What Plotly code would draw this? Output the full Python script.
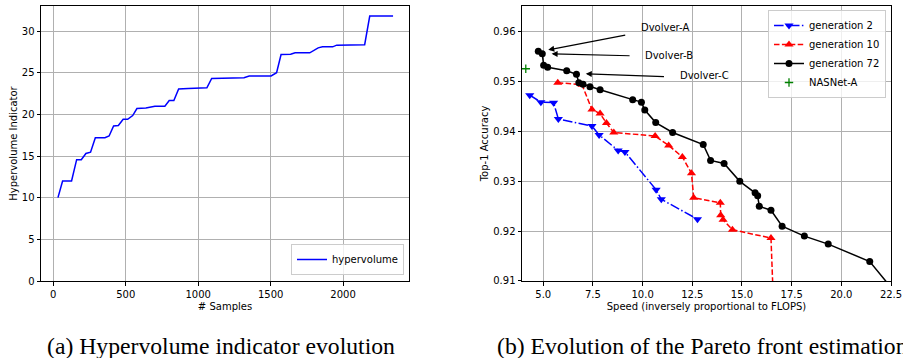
import plotly.graph_objects as go

# ---------------- data ----------------
hv_samples = [32, 64, 126, 161, 193, 225, 257, 290, 356, 385, 416, 449, 482, 513, 548, 577,
              639, 701, 770, 800, 832, 865, 931, 1000, 1060, 1093, 1195, 1316, 1352, 1503,
              1541, 1572, 1638, 1669, 1770, 1828, 1858, 1928, 1956, 2149, 2184, 2345]
hv_values = [10.0, 12.0, 12.0, 14.56, 14.56, 15.3, 15.45, 17.2, 17.2, 17.4, 18.6, 18.65,
             19.4, 19.4, 19.85, 20.7, 20.76, 20.96, 20.98, 21.65, 21.65, 23.03, 23.1, 23.16,
             23.18, 24.3, 24.36, 24.4, 24.6, 24.6, 25.0, 27.18, 27.2, 27.38, 27.38, 27.98,
             28.1, 28.1, 28.3, 28.35, 31.8, 31.8]

gen2_speed = [4.32, 4.88, 5.52, 5.76, 7.45, 7.81, 8.77, 9.11, 10.68, 10.94, 12.76]
gen2_acc = [0.9473, 0.9459, 0.9458, 0.9425, 0.9411, 0.9393, 0.9362, 0.9359, 0.9283, 0.9264, 0.9224]

gen10_speed = [5.73, 6.95, 7.45, 7.86, 8.18, 8.55, 10.63, 11.31, 12.0, 12.46, 12.57,
               13.91, 13.93, 14.05, 14.52, 16.46, 16.59]
gen10_acc = [0.9498, 0.9494, 0.9444, 0.9436, 0.9417, 0.9398, 0.9391, 0.9372, 0.9349, 0.9316,
             0.9267, 0.9257, 0.9232, 0.9223, 0.9203, 0.9186, 0.905]

gen72_speed = [4.75, 4.95, 5.02, 5.22, 6.18, 6.67, 6.79, 7.0, 7.35, 7.86, 9.50, 9.94, 10.11,
               10.66, 11.51, 13.05, 13.42, 14.10, 14.89, 15.66, 15.79, 15.87, 16.46, 17.02,
               18.14, 19.34, 21.43, 23.26]
gen72_acc = [0.9561, 0.9556, 0.9533, 0.9529, 0.9522, 0.9515, 0.9498, 0.9495, 0.9490, 0.9484,
             0.9464, 0.9459, 0.9443, 0.9418, 0.9398, 0.9374, 0.9342, 0.9336, 0.9300, 0.9277,
             0.9271, 0.9250, 0.9242, 0.9210, 0.9190, 0.9174, 0.9139, 0.905]

nasnet_speed = [4.12]
nasnet_acc = [0.9526]

dvolver_names = ["Dvolver-A", "Dvolver-B", "Dvolver-C"]
dvolver_head_x = [5.25, 5.42, 7.14]
dvolver_head_y = [0.9564, 0.9556, 0.9516]
dvolver_tail_x = [9.2, 9.42, 11.15]
dvolver_tail_y = [0.9594, 0.9552, 0.9510]
dvolver_text_x = [9.84, 10.03, 11.76]
dvolver_text_y = [0.9608, 0.9552, 0.9512]

hv_xticks = [0, 500, 1000, 1500, 2000]
hv_yticks = [0, 5, 10, 15, 20, 25, 30]
pf_xticks = [5.0, 7.5, 10.0, 12.5, 15.0, 17.5, 20.0, 22.5]
pf_yticks = [0.91, 0.92, 0.93, 0.94, 0.95, 0.96]

captions = ["(a) Hypervolume indicator evolution", "(b) Evolution of the Pareto front estimation"]

# ---------------- figure ----------------
W, H = 903, 358
FONT = "DejaVu Sans"

fig = go.Figure()

fig.add_trace(go.Scatter(x=hv_samples, y=hv_values, mode="lines", name="hypervolume",
                         line=dict(color="#0000ff", width=1.5), xaxis="x", yaxis="y",
                         legend="legend"))

fig.add_trace(go.Scatter(x=gen2_speed, y=gen2_acc, mode="lines+markers", name="generation 2",
                         line=dict(color="#0000ff", width=1.5, dash="9.6px,2.4px,1.5px,2.4px"),
                         marker=dict(symbol="triangle-down", size=8, color="#0000ff"),
                         xaxis="x2", yaxis="y2", legend="legend2"))
fig.add_trace(go.Scatter(x=gen10_speed, y=gen10_acc, mode="lines+markers", name="generation 10",
                         line=dict(color="#ff0000", width=1.5, dash="5.5px,2.4px"),
                         marker=dict(symbol="triangle-up", size=8, color="#ff0000"),
                         xaxis="x2", yaxis="y2", legend="legend2"))
fig.add_trace(go.Scatter(x=gen72_speed, y=gen72_acc, mode="lines+markers", name="generation 72",
                         line=dict(color="#000000", width=1.5),
                         marker=dict(symbol="circle", size=7, color="#000000"),
                         xaxis="x2", yaxis="y2", legend="legend2"))
fig.add_trace(go.Scatter(x=nasnet_speed, y=nasnet_acc, mode="markers", name="NASNet-A",
                         marker=dict(symbol="cross-thin", size=6, color="#008000",
                                     line=dict(width=1.3, color="#008000")),
                         xaxis="x2", yaxis="y2", legend="legend2"))

ydom = [(H - 281) / H, (H - 6) / H]
axis_common = dict(showgrid=True, gridcolor="#b0b0b0", gridwidth=0.8, showline=True,
                   linecolor="black", linewidth=1, mirror=True, ticks="outside", ticklen=3.5,
                   tickwidth=0.8, tickcolor="black", zeroline=False,
                   tickfont=dict(family=FONT, size=10, color="black"), automargin=False)

fig.update_layout(
    width=W, height=H, margin=dict(l=0, r=0, t=0, b=0),
    paper_bgcolor="white", plot_bgcolor="white",
    font=dict(family=FONT, size=10, color="black"),
    xaxis=dict(domain=[41 / W, 409 / W], range=[-85, 2455], tickvals=hv_xticks, anchor="y",
               title=dict(text="# Samples", font=dict(family=FONT, size=10), standoff=4),
               **axis_common),
    yaxis=dict(domain=ydom, range=[0, 33], tickvals=hv_yticks, anchor="x",
               title=dict(text="Hypervolume Indicator", font=dict(family=FONT, size=10), standoff=2),
               **axis_common),
    xaxis2=dict(domain=[522 / W, 891 / W], range=[3.93, 22.5001], tickvals=pf_xticks,
                tickformat=".1f", anchor="y2",
                title=dict(text="Speed (inversely proportional to FLOPS)", font=dict(family=FONT, size=10), standoff=4),
                **axis_common),
    yaxis2=dict(domain=ydom, range=[0.90999, 0.9652], tickvals=pf_yticks, tickformat=".2f",
                anchor="x2",
                title=dict(text="Top-1 Accuracy", font=dict(family=FONT, size=10), standoff=2),
                **axis_common),
    legend=dict(x=404 / W, y=(H - 275) / H, xanchor="right", yanchor="bottom",
                bordercolor="#cccccc", borderwidth=1, bgcolor="rgba(255,255,255,0.8)",
                font=dict(family=FONT, size=10, color="black")),
    legend2=dict(x=886 / W, y=(H - 10) / H, xanchor="right", yanchor="top",
                 bordercolor="#cccccc", borderwidth=1, bgcolor="rgba(255,255,255,0.8)",
                 font=dict(family=FONT, size=10, color="black")),
    showlegend=True,
)

annotations = []
for name, hx, hy, tx, ty, lx, ly in zip(dvolver_names, dvolver_head_x, dvolver_head_y,
                                        dvolver_tail_x, dvolver_tail_y,
                                        dvolver_text_x, dvolver_text_y):
    annotations.append(dict(x=hx, y=hy, ax=tx, ay=ty, xref="x2", yref="y2", axref="x2",
                            ayref="y2", text="", showarrow=True, arrowhead=2, arrowsize=1,
                            arrowwidth=1.2, arrowcolor="black", standoff=0, startstandoff=0))
    annotations.append(dict(x=lx, y=ly, xref="x2", yref="y2", text=name, showarrow=False,
                            xanchor="left", yanchor="middle",
                            font=dict(family=FONT, size=10, color="black")))

cap_x = [45, 495]
for cx, cap in zip(cap_x, captions):
    annotations.append(dict(x=cx / W, y=(H - 346) / H, xref="paper", yref="paper", text=cap,
                            showarrow=False, xanchor="left", yanchor="middle",
                            font=dict(family="Liberation Serif", size=23.7, color="black")))

fig.update_layout(annotations=annotations)

fig.write_html("out.html", config={"displayModeBar": False},
               post_script="document.body.style.margin='0px';document.body.style.overflow='hidden';")
